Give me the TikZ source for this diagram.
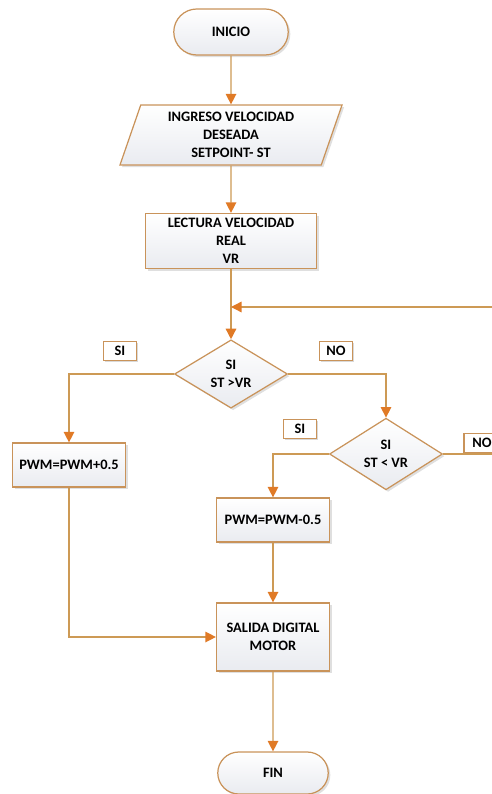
\documentclass[tikz,border=0pt]{standalone}
\usepackage{fontspec}
\setmainfont{Carlito}
\usepackage{tikz}
\usetikzlibrary{arrows.meta,positioning,shapes.geometric,shapes.misc,shadows}
\definecolor{lineorange}{HTML}{CD9A55}
\definecolor{tiporange}{HTML}{E07A26}
\definecolor{edgebrown}{HTML}{C9935A}
\definecolor{boxtop}{HTML}{FFFFFF}
\definecolor{boxbot}{HTML}{E9EBF0}

\begin{document}
\begin{tikzpicture}[
  x=0.02cm, y=-0.02cm,
  line width=0.8pt,
  font=\fontsize{8.2}{10.2}\selectfont\bfseries,
  flow/.style={draw=lineorange, -{Triangle[length=6pt, width=6pt, color=tiporange]}},
  wire/.style={draw=lineorange},
  base/.style={draw=edgebrown, line width=0.7pt, top color=boxtop, bottom color=boxbot, align=center, inner sep=1pt,
    drop shadow={shadow xshift=1.2pt, shadow yshift=-1.2pt, opacity=0.25, fill=gray}},
  term/.style={base, rounded rectangle, minimum width=2.36cm, minimum height=0.92cm},
  proc/.style={base, rectangle, minimum width=2.26cm, minimum height=0.88cm},
  io/.style={base, trapezium, trapezium left angle=73, trapezium right angle=107,
    trapezium stretches=true, minimum width=4.48cm, minimum height=1.2cm},
  dec/.style={base, diamond, inner sep=0pt, minimum width=2.26cm, minimum height=1.32cm},
  tag/.style={draw=edgebrown, fill=white, line width=0.8pt, minimum width=0.66cm, minimum height=0.38cm, inner sep=1pt,
    drop shadow={shadow xshift=1pt, shadow yshift=-1pt, opacity=0.3, fill=gray}}]
\useasboundingbox (0,0) rectangle (491,794);

% main column
\node[term] (inicio) at (231,32) {INICIO};
\node[io]   (ingreso) at (231,135) {INGRESO VELOCIDAD\\DESEADA\\SETPOINT- ST};
\node[proc, minimum width=3.42cm, minimum height=1.1cm] (lectura) at (231,241) {LECTURA VELOCIDAD\\REAL\\VR};
\node[dec]  (dec1) at (231,374) {SI\\ST >VR};
\node[dec]  (dec2) at (386,454) {SI\\ST < VR};

% branches
\node[proc] (pwmmas) at (69,465) {PWM=PWM+0.5};
\node[proc] (pwmmenos) at (273,520) {PWM=PWM-0.5};
\node[proc, minimum height=1.36cm] (salida) at (273,637) {SALIDA DIGITAL\\MOTOR};
\node[term, minimum width=2.28cm, minimum height=0.84cm] (fin) at (273,773) {FIN};

% answer tags
\node[tag] (si1) at (120,351) {SI};
\node[tag] (no1) at (336,351) {NO};
\node[tag] (si2) at (300,429) {SI};
\node[tag, minimum width=0.72cm] (no2) at (482,443) {NO};

\coordinate (loopin) at (492,307);
\coordinate (join) at (231,307);
\coordinate (exit2) at (492,454);

% connectors
\draw[flow] (inicio) -- (ingreso);
\draw[flow] (ingreso) -- (lectura);
\draw[flow] (lectura) -- (dec1);
\draw[flow] (loopin) -- (join);
\draw[flow] (dec1.west) -| (pwmmas.north);
\draw[flow] (dec1.east) -| (dec2.north);
\draw[flow] (dec2.west) -| (pwmmenos.north);
\draw[wire] (dec2.east) -- (exit2);
\draw[flow] (pwmmenos) -- (salida);
\draw[flow] (pwmmas.south) |- (salida.west);
\draw[flow] (salida) -- (fin);
\end{tikzpicture}
\end{document}
